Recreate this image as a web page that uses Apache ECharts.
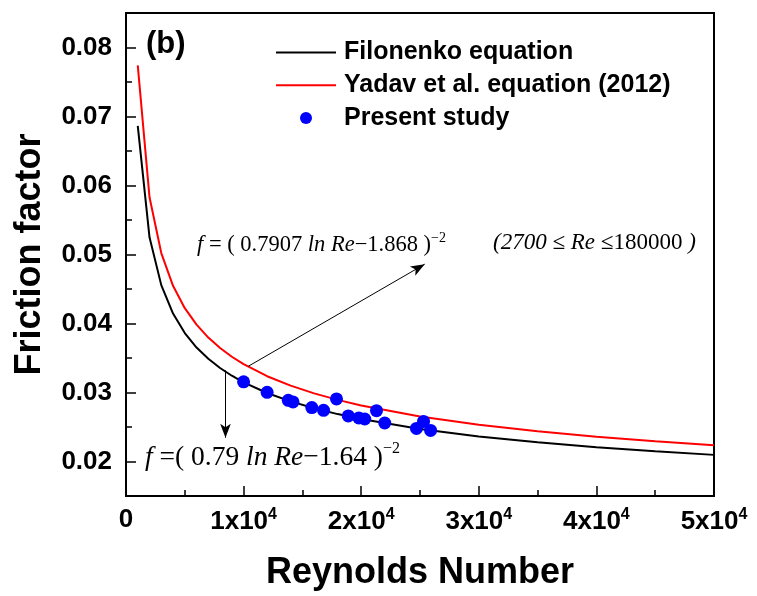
<!DOCTYPE html>
<html>
<head>
<meta charset="utf-8">
<script src="https://cdn.jsdelivr.net/npm/echarts@6/dist/echarts.min.js"></script>
<style>
html,body{margin:0;padding:0;background:#fff;}
#chart{width:757px;height:596px;}
</style>
</head>
<body>
<div id="chart"></div>
<script>
// Reynolds numbers at which the two correlation curves are plotted
const curveRe = [1000, 2000, 3000, 4000, 5000, 6000, 7000, 8000, 9000, 10000,
  12000, 14000, 16000, 18000, 20000, 25000, 30000, 35000, 40000, 45000, 50000];
// Filonenko equation values
const filonenkoF = [0.06863, 0.05249, 0.04556, 0.04144, 0.03862, 0.03652, 0.03488, 0.03355, 0.03243, 0.03148,
  0.02993, 0.02871, 0.02771, 0.02687, 0.02615, 0.02472, 0.02364, 0.02278, 0.02207, 0.02147, 0.02096];
// Yadav et al. equation (2012) values
const yadavF = [0.07742, 0.05829, 0.05021, 0.04546, 0.04222, 0.03983, 0.03796, 0.03645, 0.03518, 0.03411,
  0.03236, 0.03099, 0.02987, 0.02893, 0.02813, 0.02653, 0.02532, 0.02438, 0.02359, 0.02293, 0.02236];
// Present study (measured points)
const studyRe = [10000, 12000, 13800, 14200, 15800, 16800, 17900, 18900, 19800, 20300, 21300, 22000, 24700, 25300, 25900];
const studyF = [0.03154, 0.03003, 0.02887, 0.02863, 0.02781, 0.02741, 0.02907, 0.02660, 0.02631, 0.02616, 0.02737, 0.02558, 0.02480, 0.02581, 0.02451];
// Tick values
const xTicks = [0, 10000, 20000, 30000, 40000, 50000];
const yTicks = [0.02, 0.03, 0.04, 0.05, 0.06, 0.07, 0.08];
const yMinorTicks = [0.025, 0.035, 0.045, 0.055, 0.065, 0.075];
// Annotation arrows [fromRe, fromF, toRe, toF]
const arrows = [[10400, 0.0338, 25400, 0.0486], [8460, 0.0332, 8460, 0.02344]];

const SANS = '"Liberation Sans", Arial, sans-serif';
const SERIF = '"Liberation Serif", "Times New Roman", serif';

const chart = echarts.init(document.getElementById('chart'), null, {renderer: 'canvas'});

const option = {
  backgroundColor: '#fff',
  animation: false,
  grid: {left: 126, right: 43, top: 13, bottom: 100, show: true, borderColor: '#000', borderWidth: 2, backgroundColor: 'transparent'},
  legend: {
    orient: 'vertical', left: 275, top: 40, padding: 0,
    itemWidth: 60, itemHeight: 12, itemGap: 7.7,
    textStyle: {fontFamily: SANS, fontWeight: 'bold', fontSize: 25, color: '#000', padding: [0, 0, 0, 3]},
    data: [
      {name: 'Filonenko equation', itemStyle: {opacity: 0}},
      {name: 'Yadav et al. equation (2012)', itemStyle: {opacity: 0}},
      {name: 'Present study', icon: 'circle'}
    ]
  },
  xAxis: {
    type: 'value', min: 0, max: 50000, interval: 10000,
    name: 'Reynolds Number', nameLocation: 'middle', nameGap: 77,
    nameTextStyle: {fontFamily: SANS, fontWeight: 'bold', fontSize: 36, color: '#000', verticalAlign: 'middle'},
    axisLine: {show: true, onZero: false, lineStyle: {color: '#000', width: 2}},
    axisTick: {show: true, inside: true, length: 10, lineStyle: {color: '#000', width: 1.5}},
    minorTick: {show: true, splitNumber: 2, length: 6, lineStyle: {color: '#000', width: 1.5}},
    splitLine: {show: false},
    axisLabel: {
      margin: 11, fontFamily: SANS, fontWeight: 'bold', fontSize: 26, color: '#000',
      formatter: v => v === 0 ? '0' : (v / 10000) + 'x10{sup|4}',
      rich: {sup: {fontFamily: SANS, fontWeight: 'bold', fontSize: 16, color: '#000', padding: [0, 0, 14, 0]}}
    }
  },
  yAxis: [{
    type: 'value', min: 0.015, max: 0.085,
    name: 'Friction factor', nameLocation: 'middle', nameGap: 96,
    nameTextStyle: {fontFamily: SANS, fontWeight: 'bold', fontSize: 36, color: '#000', verticalAlign: 'middle'},
    axisLine: {show: true, onZero: false, lineStyle: {color: '#000', width: 2}},
    axisTick: {show: true, inside: true, length: 10, customValues: yTicks, lineStyle: {color: '#000', width: 1.5}},
    splitLine: {show: false},
    axisLabel: {
      margin: 14, fontFamily: SANS, fontWeight: 'bold', fontSize: 26, color: '#000',
      customValues: yTicks, formatter: v => v.toFixed(2)
    }
  }, {
    type: 'value', min: 0.015, max: 0.085, position: 'left',
    axisLine: {show: false},
    axisTick: {show: true, inside: true, length: 6, customValues: yMinorTicks, lineStyle: {color: '#000', width: 1.5}},
    axisLabel: {show: false, customValues: yMinorTicks},
    splitLine: {show: false}
  }],
  series: [
    {
      name: 'Filonenko equation', type: 'line', symbol: 'none', smooth: false,
      lineStyle: {color: '#000', width: 2}, itemStyle: {color: '#000'},
      data: curveRe.map((r, i) => [r, filonenkoF[i]]),
      z: 2
    },
    {
      name: 'Yadav et al. equation (2012)', type: 'line', symbol: 'none', smooth: false,
      lineStyle: {color: '#ff0000', width: 2}, itemStyle: {color: '#ff0000'},
      data: curveRe.map((r, i) => [r, yadavF[i]]),
      z: 2,
      markLine: {
        silent: true, symbol: ['none', 'arrow'], symbolSize: [8, 14],
        lineStyle: {color: '#000', width: 1, type: 'solid'},
        label: {show: false},
        data: arrows.map(a => [{coord: [a[0], a[1]]}, {coord: [a[2], a[3]]}])
      }
    },
    {
      name: 'Present study', type: 'scatter', symbol: 'circle', symbolSize: 13,
      itemStyle: {color: '#0000ff', opacity: 1},
      data: studyRe.map((r, i) => [r, studyF[i]]),
      z: 3
    }
  ],
  graphic: [
    {type: 'text', left: 146, top: 29, style: {text: '(b)', font: 'bold 31px ' + SANS, fill: '#000'}},
    {type: 'text', left: 197, top: 231, style: {
      text: '{i|f} = ( 0.7907 {i|ln} {i|Re}−1.868 ){s|−2}',
      fontFamily: SERIF, fontSize: 22.5, fill: '#000',
      rich: {i: {fontFamily: SERIF, fontSize: 22.5, fontStyle: 'italic'}, s: {fontFamily: SERIF, fontSize: 14, padding: [0, 0, 14, 0]}}
    }},
    {type: 'text', left: 493, top: 231, style: {
      text: '{i|(2700 ≤ Re ≤}180000{i| )}',
      fontFamily: SERIF, fontSize: 23, fill: '#000',
      rich: {i: {fontFamily: SERIF, fontSize: 23, fontStyle: 'italic'}}
    }},
    {type: 'text', left: 145, top: 441, style: {
      text: '{i|f} =( 0.79 {i|ln} {i|Re}−1.64 ){s|−2}',
      fontFamily: SERIF, fontSize: 27.5, fill: '#000',
      rich: {i: {fontFamily: SERIF, fontSize: 27.5, fontStyle: 'italic'}, s: {fontFamily: SERIF, fontSize: 16, padding: [0, 0, 17, 0]}}
    }}
  ]
};
chart.setOption(option);
</script>
</body>
</html>
